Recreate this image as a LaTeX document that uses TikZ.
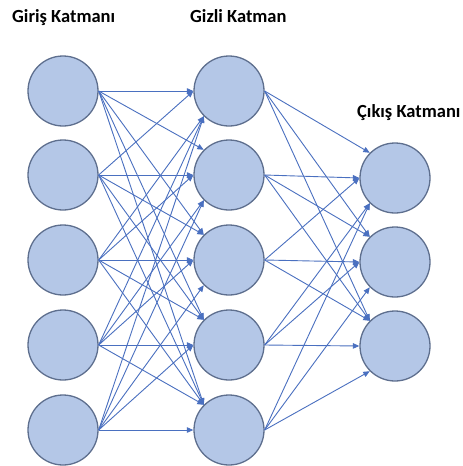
\documentclass[tikz,border=0pt]{standalone}
\usepackage{fontspec}
\setmainfont{Carlito}
\usetikzlibrary{arrows.meta}
\definecolor{neuronfill}{HTML}{B4C7E7}
\definecolor{neuronedge}{HTML}{5E6F8E}
\definecolor{linkblue}{HTML}{4A70C0}
\begin{document}
\begin{tikzpicture}[x=1pt,y=-1pt,
  neuron/.style={circle,draw=neuronedge,fill=neuronfill,line width=1.3pt,minimum size=70pt,inner sep=0pt},
  link/.style={draw=linkblue,line width=0.9pt,-{Triangle[length=6.5pt,width=5.5pt]}},
  layertitle/.style={font=\bfseries\fontsize{18.5}{21}\selectfont,inner sep=0pt,anchor=base west}]
\useasboundingbox (0,0) rectangle (463,466);
\fill[white] (0,0) rectangle (463,466);

% layer titles
\node[layertitle] (tin)  at (12,22.5)   {Giriş Katmanı};
\node[layertitle] (thid) at (190,22.5)  {Gizli Katman};
\node[layertitle] (tout) at (357,117.5) {Çıkış Katmanı};

% neurons
\foreach \i/\y in {1/91,2/175,3/260,4/345,5/430}{
  \node[neuron] (in\i)  at (63,\y)  {};
  \node[neuron] (hid\i) at (229,\y) {};
}
\foreach \k/\y in {1/178,2/262,3/346}{
  \node[neuron] (out\k) at (395,\y) {};
}

% input -> hidden connections
\foreach \i in {1,...,5}{
  \foreach \j in {1,...,5}{
    \pgfmathsetmacro{\d}{\i-\j}
    \ifdim\d pt<0pt
      \def\anc{north west}
    \else\ifdim\d pt<2pt
      \def\anc{west}
    \else
      \def\anc{south west}
    \fi\fi
    \draw[link] (in\i.east) -- (hid\j.\anc);
  }
}

% hidden -> output connections
\foreach \j in {1,...,5}{
  \foreach \k in {1,2,3}{
    \pgfmathsetmacro{\d}{\j-\k-1}
    \ifdim\d pt<0pt
      \def\anc{north west}
    \else\ifdim\d pt<2pt
      \def\anc{west}
    \else
      \def\anc{south west}
    \fi\fi
    \ifnum\j=5 \ifnum\k=3 \def\anc{south west}\fi\fi
    \draw[link] (hid\j.east) -- (out\k.\anc);
  }
}
\end{tikzpicture}
\end{document}
